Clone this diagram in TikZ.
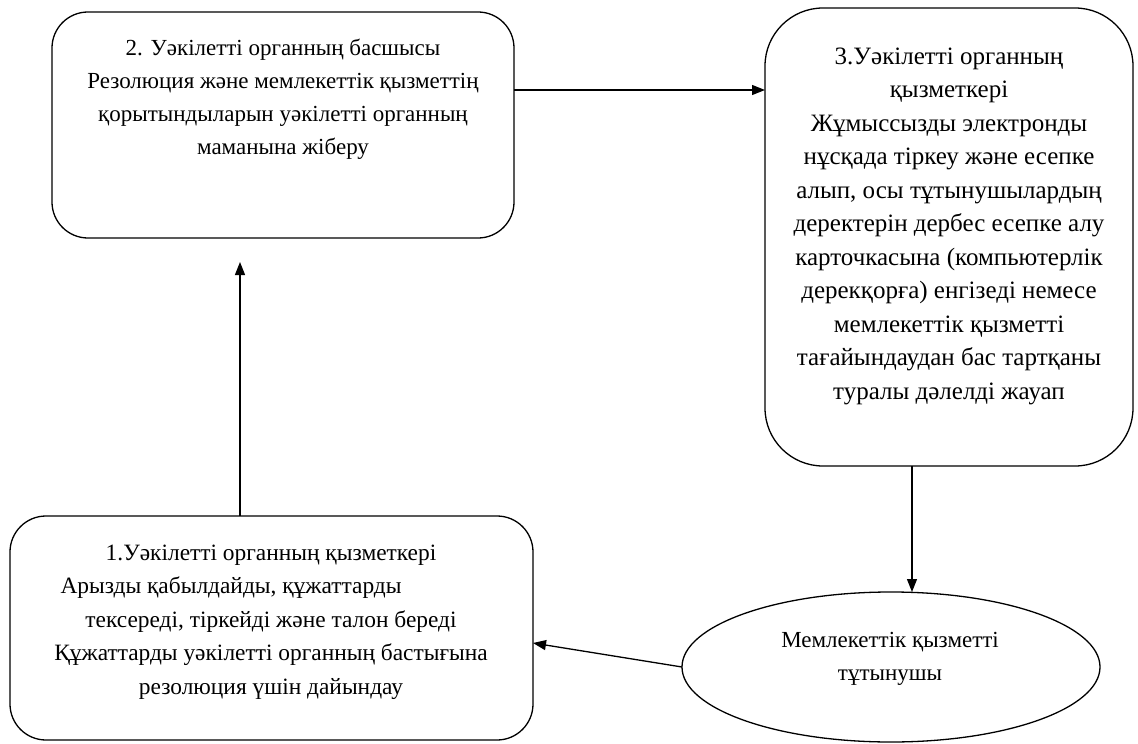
\documentclass[tikz,border=0pt]{standalone}
\usepackage{fontspec}
\setmainfont{Liberation Serif}
\usetikzlibrary{arrows.meta,shapes.geometric}
\begin{document}
\begin{tikzpicture}[x=1bp,y=-1bp,
  box/.style={draw, line width=1.3bp, inner sep=0, outer sep=0},
  txt/.style={align=center, font=\fontsize{23bp}{33.5bp}\selectfont, inner sep=0},
  arr/.style={line width=1.3bp, -{Triangle[length=13bp,width=10bp]}}
]
\useasboundingbox (0,0) rectangle (1138,744);
\node[box, rounded corners=36bp, minimum width=462bp, minimum height=226bp] (b2) at (283,125) {};
\node[box, rounded corners=58bp, minimum width=368bp, minimum height=458bp] (b3) at (949,237) {};
\node[box, rounded corners=36bp, minimum width=523bp, minimum height=224bp] (b1) at (271.5,628) {};
\node[box, ellipse, minimum width=418bp, minimum height=150bp] (e) at (891,667) {};

\node[txt, font=\fontsize{23bp}{33bp}\selectfont] (t2) at (283,99) {2. Уәкілетті органның басшысы\\Резолюция және мемлекеттік қызметтің\\қорытындыларын уәкілетті органның\\маманына жіберу};
\node[txt, font=\fontsize{25bp}{33.5bp}\selectfont] (t3) at (949,226) {3.Уәкілетті органның\\қызметкері\\Жұмыссызды электронды\\нұсқада тіркеу және есепке\\алып, осы тұтынушылардың\\деректерін дербес есепке алу\\карточкасына (компьютерлік\\дерекқорға) енгізеді немесе\\мемлекеттік қызметті\\тағайындаудан бас тартқаны\\туралы дәлелді жауап};
\node[txt, font=\fontsize{23.4bp}{33.5bp}\selectfont] (t1) at (271,622) {1.Уәкілетті органның қызметкері\\Арызды қабылдайды, құжаттарды\rule{80bp}{0pt}\\тексереді, тіркейді және талон береді\\Құжаттарды уәкілетті органның бастығына\\резолюция үшін дайындау};
\node[txt] (te) at (890,659) {Мемлекеттік қызметті\\тұтынушы};

\coordinate (p1) at (240,262);
\coordinate (p2) at (0,90);
\coordinate (p3) at (912,0);
\coordinate (p4) at (0,643);
\draw[arr] (b1.north -| p1) -- (p1);
\draw[arr] (b2.east |- p2) -- (b3.west |- p2);
\draw[arr] (b3.south -| p3) -- (e.north -| p3);
\draw[arr] (e.west) -- (b1.east |- p4);
\end{tikzpicture}
\end{document}
